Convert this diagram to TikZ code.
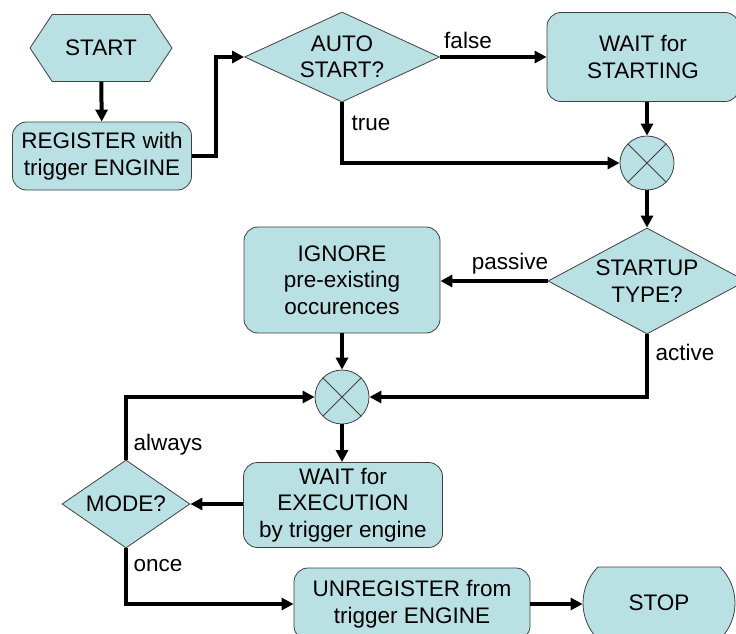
\documentclass[tikz,border=0pt]{standalone}
\usepackage{fontspec}
\setmainfont{Liberation Sans}
\usetikzlibrary{shapes.geometric,shapes.misc,shapes.symbols,arrows.meta}
\definecolor{boxfill}{RGB}{185,224,227}
\definecolor{boxline}{RGB}{64,64,64}
\tikzset{
  base/.style={draw=boxline, line width=0.8pt, fill=boxfill, align=center,
    font=\fontsize{22.5}{26.5}\selectfont, inner sep=0pt},
  procbox/.style={base, rectangle, rounded corners=14pt},
  decision/.style={base, diamond},
  junction/.style={base, circle, minimum size=54pt},
  flow/.style={line width=4pt, -{Triangle[length=12pt,width=12pt]}},
  lbl/.style={font=\fontsize{22.5}{26.5}\selectfont, inner sep=0pt}
}
\begin{document}
\begin{tikzpicture}[x=1pt,y=-1pt]
\useasboundingbox (0,0) rectangle (736,634);

% terminals and process boxes
\node[base, signal, signal to=west and east, signal pointer angle=113,
      minimum width=142pt, minimum height=67pt] (start) at (101,48) {START};
\node[procbox, minimum width=179pt, minimum height=68pt] (reg) at (102,156) {REGISTER with\\trigger ENGINE};
\node[decision, aspect=2.17, inner sep=-3pt, minimum width=195pt, minimum height=90pt] (auto) at (342,57) {AUTO\\START?};
\node[procbox, minimum width=192pt, minimum height=89pt] (waits) at (643,57) {WAIT for\\STARTING};
\node[junction] (j1) at (647,163) {};
\node[decision, aspect=1.87, minimum width=198pt, minimum height=106pt] (stype) at (647,281) {STARTUP\\TYPE?};
\node[procbox, minimum width=196pt, minimum height=106pt] (ignore) at (342,280) {IGNORE\\pre-existing\\occurences};
\node[junction] (j2) at (342,397) {};
\node[procbox, minimum width=199pt, minimum height=85pt] (waite) at (343,505) {WAIT for\\EXECUTION\\by trigger engine};
\node[decision, aspect=1.45, minimum width=128pt, minimum height=88pt] (mode) at (126,504) {MODE?};
\node[procbox, minimum width=236pt, minimum height=72pt] (unreg) at (412,604) {UNREGISTER from\\trigger ENGINE};
\node[base, rounded rectangle, rounded rectangle arc length=90,
      minimum width=152pt, minimum height=72pt] (stop) at (659,603) {STOP};

% crosses inside the junctions
\foreach \j in {j1,j2}{
  \draw[boxline, line width=0.8pt] (\j.north west) -- (\j.south east)
                                   (\j.north east) -- (\j.south west);
}

% connectors
\draw[flow] (start) -- (reg);
\draw[flow] (reg.east) -- ++(24,0) |- (auto.west);
\draw[flow] (auto.east) -- (waits.west |- auto.east);
\draw[flow] (auto.south) |- (j1.west);
\draw[flow] (waits.south -| j1.north) -- (j1.north);
\draw[flow] (j1) -- (stype);
\draw[flow] (stype.west) -- (stype.west -| ignore.east);
\draw[flow] (stype.south) |- (j2.east);
\draw[flow] (ignore.south -| j2.north) -- (j2.north);
\draw[flow] (j2.south) -- (waite.north -| j2.south);
\draw[flow] (waite.west |- mode.east) -- (mode.east);
\draw[flow] (mode.north) |- (j2.west);
\draw[flow] (mode.south) |- (unreg.west);
\draw[flow] (unreg.east) -- (stop.west |- unreg.east);

% branch labels
\node[lbl] (lfalse) at (468,40) {false};
\node[lbl] (ltrue) at (371,123) {true};
\node[lbl] (lpassive) at (510,264) {passive};
\node[lbl] (lactive) at (685,352) {active};
\node[lbl] (lalways) at (168,445) {always};
\node[lbl] (lonce) at (158,566) {once};
\end{tikzpicture}
\end{document}
